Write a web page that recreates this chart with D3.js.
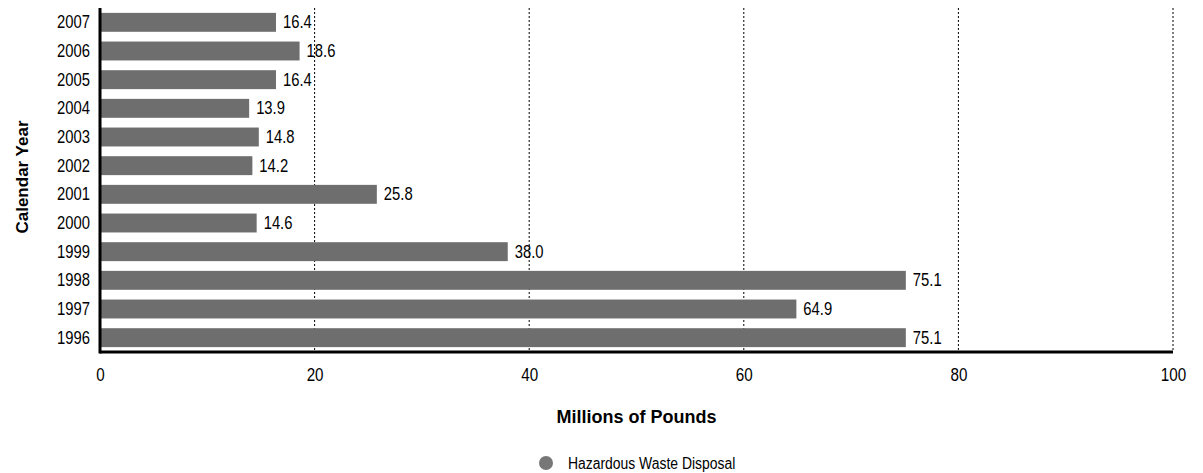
<!DOCTYPE html>
<html>
<head>
<meta charset="utf-8">
<script src="https://cdn.jsdelivr.net/npm/d3@7"></script>
<style>
  body { margin: 0; background: #fff; }
  svg text { font-family: "Liberation Sans", Arial, sans-serif; fill: #000; }
  /* police condensée simulée */
  .narrow { transform-box: fill-box; transform: scaleX(0.8); }
  .legend-txt { transform-box: fill-box; transform: scaleX(0.87); transform-origin: left center; }
  .n-start { transform-origin: left center; }
  .n-end { transform-origin: right center; }
  .n-mid { transform-origin: center center; }
</style>
</head>
<body>
<svg id="chart"></svg>
<script>
// données
const years = ["2007", "2006", "2005", "2004", "2003", "2002", "2001", "2000", "1999", "1998", "1997", "1996"];
const values = [16.4, 18.6, 16.4, 13.9, 14.8, 14.2, 25.8, 14.6, 38.0, 75.1, 64.9, 75.1];
const xTicks = [0, 20, 40, 60, 80, 100];
const seriesName = "Hazardous Waste Disposal";

const W = 1203, H = 473;
const margin = { top: 8, right: 30, bottom: 121, left: 100 };
const width = W - margin.left - margin.right,
  height = H - margin.top - margin.bottom;

const svg = d3.select("#chart").attr("width", W).attr("height", H);
const g = svg.append("g").attr("transform", `translate(${margin.left},${margin.top})`);

const x = d3.scaleLinear().domain([0, 100]).range([0, width]);
const y = d3.scaleBand().domain(years).range([0, height]).paddingInner(0.34).paddingOuter(0.17);

// grille pointillée
g.selectAll(".grid")
  .data(xTicks.filter((t) => t > 0))
  .join("line")
  .attr("x1", (d) => x(d))
  .attr("x2", (d) => x(d))
  .attr("y1", 0)
  .attr("y2", height)
  .attr("stroke", "#000")
  .attr("stroke-width", 1)
  .attr("stroke-dasharray", "2,2");

// barres
const data = years.map((yr, i) => ({ year: yr, value: values[i] }));
g.selectAll(".bar")
  .data(data)
  .join("rect")
  .attr("x", 0)
  .attr("y", (d) => y(d.year))
  .attr("width", (d) => x(d.value))
  .attr("height", y.bandwidth())
  .attr("fill", "#6e6e6e");

// étiquettes de valeur
g.selectAll(".lbl")
  .data(data)
  .join("text")
  .attr("class", "narrow n-start")
  .attr("x", (d) => x(d.value) + 7)
  .attr("y", (d) => y(d.year) + y.bandwidth() / 2)
  .attr("dy", "0.33em")
  .attr("font-size", "18.5px")
  .text((d) => d3.format(".1f")(d.value));

// axe Y
const yAxis = g.append("g").call(d3.axisLeft(y).tickSize(0).tickPadding(10));
yAxis.select(".domain").remove();
yAxis.attr("font-family", null);
yAxis.selectAll("text").attr("font-size", "18.5px").attr("class", "narrow n-end");

// axe X
const xAxis = g.append("g")
  .attr("transform", `translate(0,${height})`)
  .call(d3.axisBottom(x).tickValues(xTicks).tickSize(0).tickPadding(16));
xAxis.select(".domain").remove();
xAxis.attr("font-family", null);
xAxis.selectAll("text").attr("font-size", "19px").attr("class", "narrow n-mid");

// lignes d'axe épaisses
g.append("line").attr("x1", 0).attr("x2", 0).attr("y1", 0).attr("y2", height + 1.5)
  .attr("stroke", "#000").attr("stroke-width", 3);
g.append("line").attr("x1", 0).attr("x2", width).attr("y1", height).attr("y2", height)
  .attr("stroke", "#000").attr("stroke-width", 3);

// titres
svg.append("text")
  .attr("x", margin.left + width / 2)
  .attr("y", 417)
  .attr("dy", "0.35em")
  .attr("text-anchor", "middle")
  .attr("font-size", "18px")
  .attr("font-weight", "bold")
  .text("Millions of Pounds");

svg.append("text")
  .attr("transform", `translate(22,${margin.top + height / 2 - 3}) rotate(-90)`)
  .attr("dy", "0.35em")
  .attr("text-anchor", "middle")
  .attr("font-size", "17px")
  .attr("font-weight", "bold")
  .text("Calendar Year");

// légende
const leg = svg.append("g").attr("transform", "translate(546,463)");
leg.append("circle").attr("r", 7).attr("fill", "#777");
leg.append("text").attr("class", "legend-txt").attr("x", 22).attr("dy", "0.35em").attr("font-size", "16px").text(seriesName);
</script>
</body>
</html>
